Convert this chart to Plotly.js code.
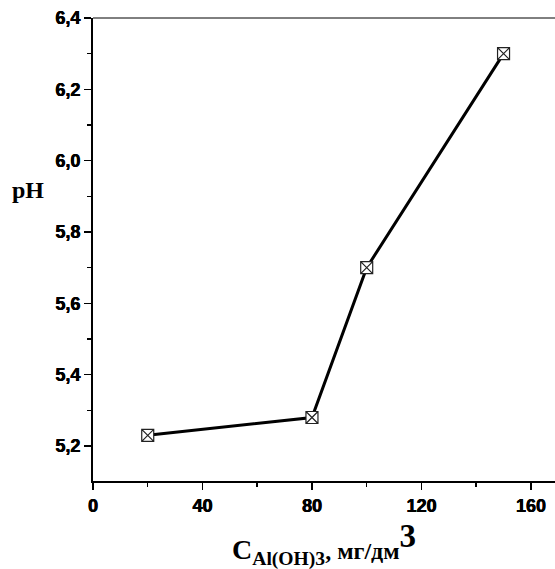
<!DOCTYPE html>
<html>
<head>
<meta charset="utf-8">
<script src="https://cdn.plot.ly/plotly-3.0.1.min.js"></script>
<style>html,body{margin:0;padding:0;background:#fff;}#chart{width:555px;height:569px;}</style>
</head>
<body>
<div id="chart"></div>
<script>
// Data
const concentration = [20, 80, 100, 150];      // C Al(OH)3, мг/дм3
const phValues = [5.23, 5.28, 5.70, 6.30];      // pH
const xTickVals = [0, 40, 80, 120, 160];
const xTickText = ['0', '40', '80', '120', '160'];
const yTickVals = [5.2, 5.4, 5.6, 5.8, 6.0, 6.2, 6.4];
const yTickText = ['5,2', '5,4', '5,6', '5,8', '6,0', '6,2', '6,4'];
const yAxisLabel = 'pH';
const xAxisLabel = 'C<sub>Al(OH)3</sub><span style="font-size:24px">, мг/дм</span><sup><span style="font-size:33px">3</span></sup>';

const tickFont = {family: 'Arial, Liberation Sans, sans-serif', size: 18, weight: 700, color: '#000',
                  shadow: '0.45px 0 0 #000, -0.2px 0 0 #000'};
const titleFont = {family: 'Liberation Serif, Times New Roman, serif', size: 28, weight: 700, color: '#000'};

const bold = s => '<b>' + s + '</b>';

const trace = {
  x: concentration,
  y: phValues,
  mode: 'lines+markers',
  type: 'scatter',
  line: {color: '#000', width: 3},
  marker: {symbol: 'square-x', size: 12, color: '#fff', line: {color: '#222', width: 1.2}},
  cliponaxis: false,
  showlegend: false
};

const layout = {
  width: 555,
  height: 569,
  margin: {l: 93, r: 0, t: 18, b: 88},
  paper_bgcolor: '#fff',
  plot_bgcolor: '#fff',
  xaxis: {
    range: [0, 168.8],
    tickvals: xTickVals,
    ticktext: xTickText.map(bold),
    ticks: 'outside', ticklen: 7, tickwidth: 1.5, tickcolor: '#000',
    minor: {dtick: 20, tick0: 0, ticks: 'outside', ticklen: 4, tickwidth: 1.5, tickcolor: '#000', showgrid: false},
    showline: true, linewidth: 2, linecolor: '#000',
    showgrid: false, zeroline: false,
    tickfont: tickFont
  },
  yaxis: {
    range: [5.102, 6.4],
    tickvals: yTickVals,
    ticktext: yTickText.map(bold),
    ticks: 'outside', ticklen: 7, tickwidth: 1.5, tickcolor: '#000',
    minor: {dtick: 0.1, tick0: 5.2, ticks: 'outside', ticklen: 4, tickwidth: 1.5, tickcolor: '#000', showgrid: false},
    showline: true, linewidth: 2, linecolor: '#000',
    showgrid: false, zeroline: false,
    tickfont: tickFont
  },
  shapes: [
    {type: 'line', xref: 'paper', yref: 'paper', x0: 0, x1: 1, y0: 1, y1: 1, line: {color: '#000', width: 1}}
  ],
  annotations: [
    {text: bold(yAxisLabel), xref: 'paper', yref: 'paper', x: -0.1407, y: 0.6285, xanchor: 'center', yanchor: 'middle', showarrow: false,
     font: {family: 'Liberation Serif, Times New Roman, serif', size: 24, weight: 700, color: '#000'}},
    {text: xAxisLabel, xref: 'paper', yref: 'paper', x: 0.5, y: -0.137, xanchor: 'center', yanchor: 'middle', showarrow: false,
     font: titleFont}
  ]
};

Plotly.newPlot('chart', [trace], layout, {displayModeBar: false, staticPlot: true});
</script>
</body>
</html>
